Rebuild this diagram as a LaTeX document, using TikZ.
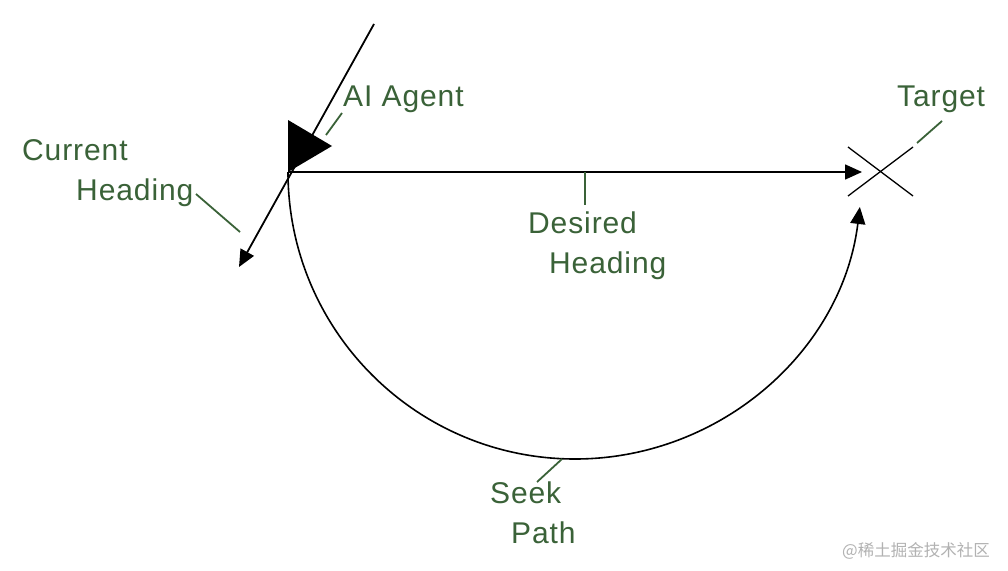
\documentclass[tikz,border=0pt]{standalone}
\usepackage{fontspec}
\setmainfont{Liberation Sans}[LetterSpace=3]
\newfontfamily\cjkfont{Noto Sans CJK SC}
\usetikzlibrary{arrows.meta}
\definecolor{labelgreen}{RGB}{58,98,56}
\definecolor{markgray}{RGB}{178,178,178}

\begin{document}
\begin{tikzpicture}[x=1pt, y=-1pt,
  line/.style={line width=1.6pt},
  arr/.style={line width=1.6pt, -{Triangle[length=17pt,width=15pt]}},
  leader/.style={labelgreen, line width=1.8pt},
  lbl/.style={labelgreen, inner sep=0pt, anchor=base west, align=left,
    font=\fontsize{30}{40}\selectfont}]
\path[use as bounding box, fill=white] (0,0) rectangle (1008,570);

% agent, heading and target
\coordinate (agent) at (288,172);
\coordinate (target) at (880,172);
\coordinate (headtop) at (374,24);
\coordinate (headend) at (239,267);
\fill (288,120) -- (332,146) -- (agent) -- cycle;
\draw[arr, line width=1.8pt] (headtop) -- (headend);
\draw[arr] (agent) -- ([xshift=-18pt]target);
\draw[line width=1.3pt] (848,147) -- (913,196);
\draw[line width=1.3pt] (848,196) -- (913,147);

% seek path
\draw[arr] (agent) arc[start angle=180, end angle=7, radius=287];

% labels (base = last line)
\node[lbl] (agentlbl) at (343,106) {AI Agent};
\node[lbl] (targetlbl) at (897,106) {Target};
\node[lbl] (currentlbl) at (22,200) {Current\\\hspace*{54pt}Heading};
\node[lbl] (desiredlbl) at (528,273) {Desired\\\hspace*{21pt}Heading};
\node[lbl] (seeklbl) at (490,543) {Seek\\\hspace*{21pt}Path};

% leader lines
\coordinate (agentpt) at (326,135);
\coordinate (agentln) at (342,113);
\coordinate (targetpt) at (917,143);
\coordinate (targetln) at (942,121);
\coordinate (currentpt) at (240,232);
\coordinate (currentln) at (196,194);
\coordinate (desiredpt) at (585,172);
\coordinate (desiredln) at (585,205);
\coordinate (seekpt) at (562,459);
\coordinate (seekln) at (537,482);
\draw[leader] (agentpt) -- (agentln);
\draw[leader] (targetpt) -- (targetln);
\draw[leader] (currentpt) -- (currentln);
\draw[leader] (desiredpt) -- (desiredln);
\draw[leader] (seekpt) -- (seekln);

% watermark
\node[markgray, inner sep=0pt, anchor=west, font=\cjkfont\fontsize{16.5}{18}\selectfont]
  (mark) at (842,551) {@稀土掘金技术社区};
\end{tikzpicture}
\end{document}
